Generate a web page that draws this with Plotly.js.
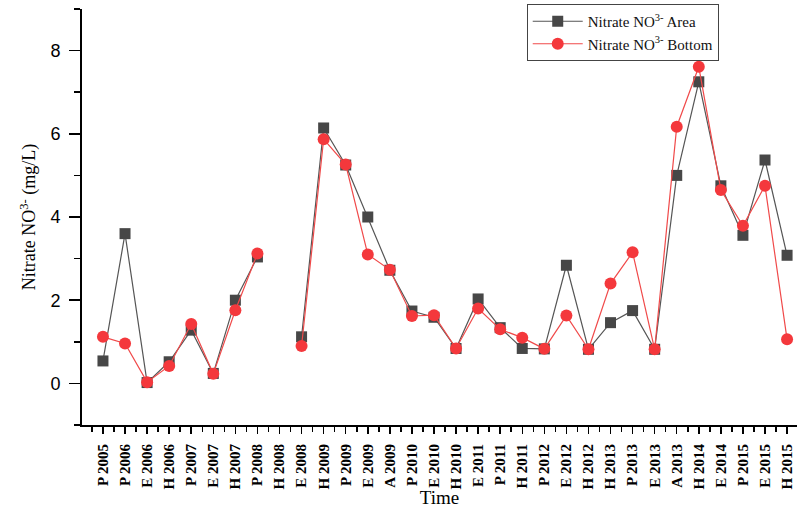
<!DOCTYPE html>
<html>
<head>
<meta charset="utf-8">
<script src="https://cdn.plot.ly/plotly-3.0.1.min.js"></script>
<style>html,body{margin:0;padding:0;background:#fff;}#chart{width:799px;height:508px;}</style>
</head>
<body>
<div id="chart"></div>
<script>
const categories = ["P 2005","P 2006","E 2006","H 2006","P 2007","E 2007","H 2007","P 2008","H 2008","E 2008",
  "H 2009","P 2009","E 2009","A 2009","P 2010","E 2010","H 2010","E 2011","P 2011","H 2011",
  "P 2012","E 2012","H 2012","H 2013","P 2013","E 2013","A 2013","H 2014","E 2014","P 2015","E 2015","H 2015"];
const nitrateArea = [0.54,3.6,0.02,0.52,1.28,0.24,2.0,3.04,null,1.12,
  6.14,5.25,4.0,2.72,1.74,1.59,0.84,2.03,1.34,0.84,
  0.83,2.84,0.82,1.46,1.75,0.82,5.0,7.25,4.75,3.56,5.37,3.08];
const nitrateBottom = [1.12,0.96,0.03,0.42,1.43,0.23,1.76,3.12,null,0.9,
  5.87,5.26,3.1,2.73,1.62,1.64,0.84,1.8,1.3,1.1,
  0.83,1.63,0.82,2.4,3.15,0.82,6.17,7.61,4.65,3.79,4.75,1.06];
const yTicks = [0,2,4,6,8];

const xIdx = categories.map((c,i)=>i);
const serif = "Liberation Serif, Times New Roman, serif";

const traces = [
  {x:xIdx, y:nitrateArea, name:"Nitrate NO<sup>3-</sup> Area", mode:"lines+markers", connectgaps:false,
   line:{color:"#555555", width:1.2}, marker:{symbol:"square", size:11, color:"#474747"}},
  {x:xIdx, y:nitrateBottom, name:"Nitrate NO<sup>3-</sup> Bottom", mode:"lines+markers", connectgaps:false,
   line:{color:"#f04a4a", width:1.2}, marker:{symbol:"circle", size:12, color:"#f4383c"}}
];

const layout = {
  width:799, height:508,
  margin:{l:82, r:2, t:9, b:83},
  paper_bgcolor:"#fff", plot_bgcolor:"#fff",
  showlegend:true,
  legend:{x:0.622, y:1.012, xanchor:"left", yanchor:"top", bgcolor:"#fff", bordercolor:"#444", borderwidth:1,
    font:{family:serif, size:15, color:"#111"}, itemwidth:50, tracegroupgap:0},
  xaxis:{
    range:[-0.95,31.45], tickmode:"array", tickvals:xIdx, ticktext:categories, tickangle:-90,
    showgrid:false, zeroline:false, showline:true, linecolor:"#000", linewidth:2,
    ticks:"outside", ticklen:7, tickwidth:1.5, tickcolor:"#000", ticklabelstandoff:4,
    tickfont:{family:serif, size:15, color:"#000", weight:"bold"},
    minor:{tickmode:"linear", tick0:0.5, dtick:1, ticks:"outside", ticklen:5, tickwidth:1.5, tickcolor:"#000", showgrid:false},
    title:{text:"Time", font:{family:serif, size:19, color:"#000"}, standoff:4}
  },
  yaxis:{
    range:[-1,9], tickmode:"array", tickvals:yTicks, ticktext:yTicks.map(String),
    showgrid:false, zeroline:false, showline:true, linecolor:"#000", linewidth:2,
    ticks:"outside", ticklen:11, tickwidth:1.5, tickcolor:"#000", ticklabelstandoff:5,
    tickfont:{family:"Liberation Sans, Arial, sans-serif", size:18, color:"#000"},
    minor:{tickmode:"linear", tick0:1, dtick:2, ticks:"outside", ticklen:6, tickwidth:1.5, tickcolor:"#000", showgrid:false},
    title:{text:"Nitrate NO<sup>3-</sup> (mg/L)", font:{family:serif, size:18, color:"#000"}, standoff:10}
  }
};
Plotly.newPlot("chart", traces, layout, {displayModeBar:false, staticPlot:true});
</script>
</body>
</html>
